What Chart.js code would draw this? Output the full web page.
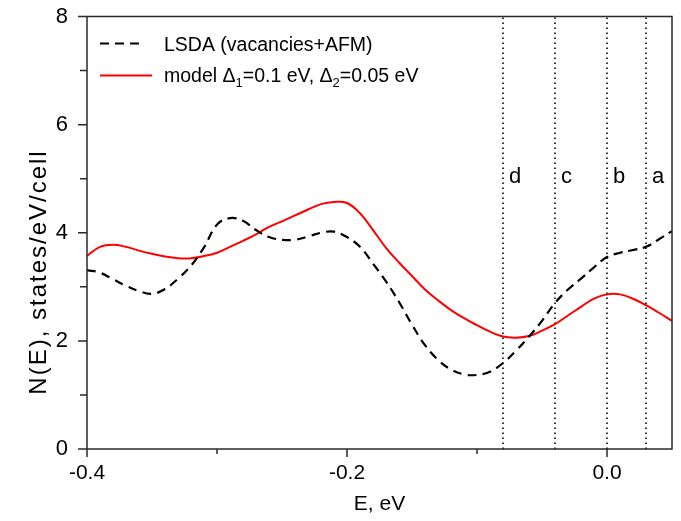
<!DOCTYPE html>
<html>
<head>
<meta charset="utf-8">
<script src="https://cdn.jsdelivr.net/npm/chart.js@4.4.1/dist/chart.umd.min.js"></script>
<style>
  html, body { margin: 0; padding: 0; background: #fff; }
  #wrap { width: 681px; height: 521px; }
</style>
</head>
<body>
<div id="wrap"><canvas id="dos"></canvas></div>
<script>
// Energy grid, eV
const energy = [
  -0.40, -0.39, -0.38, -0.37, -0.36, -0.35, -0.34, -0.33, -0.32, -0.31,
  -0.30, -0.29, -0.28, -0.27, -0.26, -0.25, -0.24, -0.23, -0.22, -0.21,
  -0.20, -0.19, -0.18, -0.17, -0.16, -0.15, -0.14, -0.13, -0.12, -0.11,
  -0.10, -0.09, -0.08, -0.07, -0.06, -0.05, -0.04, -0.03, -0.02, -0.01,
   0.00,  0.01,  0.02,  0.03,  0.04,  0.05
];

// LSDA (vacancies+AFM)
const lsda = [
  3.31, 3.26, 3.14, 3.02, 2.92, 2.87, 2.96, 3.15, 3.39, 3.73,
  4.15, 4.27, 4.22, 4.05, 3.92, 3.87, 3.87, 3.93, 4.00, 4.02,
  3.92, 3.74, 3.43, 3.10, 2.72, 2.30, 1.92, 1.65, 1.47, 1.38,
  1.37, 1.43, 1.59, 1.82, 2.08, 2.37, 2.70, 2.95, 3.15, 3.36,
  3.55, 3.63, 3.68, 3.74, 3.88, 4.03
];

// model, D1 = 0.1 eV, D2 = 0.05 eV
const model = [
  3.57, 3.74, 3.78, 3.74, 3.67, 3.61, 3.56, 3.53, 3.53, 3.57,
  3.63, 3.74, 3.85, 3.97, 4.11, 4.21, 4.32, 4.43, 4.53, 4.57,
  4.55, 4.36, 4.05, 3.72, 3.45, 3.20, 2.95, 2.75, 2.57, 2.42,
  2.29, 2.17, 2.08, 2.06, 2.09, 2.19, 2.31, 2.47, 2.63, 2.78,
  2.86, 2.86, 2.78, 2.66, 2.52, 2.37
];

// dotted marker lines
const markerE = [0.03, 0.00, -0.04, -0.08];
const markerLabels = ['a', 'b', 'c', 'd'];

const xMajor = [-0.4, -0.2, 0.0];
const xMinor = [-0.3, -0.1];
const yMajor = [0, 2, 4, 6, 8];
const yMinor = [1, 3, 5, 7];

const FONT = 'Liberation Sans, Arial, sans-serif';
const AXIS = '#2a2a2a';

const pts = vals => energy.map((e, i) => ({ x: e, y: vals[i] }));

const markerSets = markerE.map(e => ({
  data: [{ x: e, y: 0 }, { x: e, y: 8 }],
  borderColor: '#000',
  borderWidth: 1.6,
  borderDash: [1.6, 3.4],
  pointRadius: 0,
  tension: 0,
}));

// frame, tick marks, y title, marker letters and legend
const decor = {
  id: 'decor',
  afterDraw(chart) {
    const { ctx, chartArea: a, scales: { x, y } } = chart;
    ctx.save();
    ctx.strokeStyle = AXIS;
    ctx.lineWidth = 1.5;
    ctx.strokeRect(a.left, a.top, a.right - a.left, a.bottom - a.top);

    ctx.beginPath();
    xMajor.forEach(v => { const p = x.getPixelForValue(v); ctx.moveTo(p, a.bottom); ctx.lineTo(p, a.bottom + 8); });
    xMinor.forEach(v => { const p = x.getPixelForValue(v); ctx.moveTo(p, a.bottom); ctx.lineTo(p, a.bottom + 5); });
    yMajor.forEach(v => { const p = y.getPixelForValue(v); ctx.moveTo(a.left, p); ctx.lineTo(a.left - 9, p); });
    yMinor.forEach(v => { const p = y.getPixelForValue(v); ctx.moveTo(a.left, p); ctx.lineTo(a.left - 7, p); });
    ctx.stroke();

    ctx.fillStyle = '#000';

    // y axis title
    ctx.save();
    ctx.translate(46, 272);
    ctx.rotate(-Math.PI / 2);
    ctx.font = '24px ' + FONT;
    ctx.textAlign = 'center';
    ctx.textBaseline = 'alphabetic';
    if ('letterSpacing' in ctx) ctx.letterSpacing = '2px';
    ctx.fillText('N(E), states/eV/cell', 0, 0);
    ctx.restore();

    ctx.font = '22px ' + FONT;
    ctx.textBaseline = 'alphabetic';
    ctx.textAlign = 'left';
    markerE.forEach((e, i) => {
      ctx.fillText(markerLabels[i], x.getPixelForValue(e) + 6, y.getPixelForValue(4.92));
    });

    // legend
    const lx = a.left + 13, tx = a.left + 77;
    ctx.lineWidth = 2.2;
    ctx.strokeStyle = '#000';
    ctx.setLineDash([9, 6]);
    ctx.beginPath(); ctx.moveTo(lx, 43.5); ctx.lineTo(lx + 40, 43.5); ctx.stroke();
    ctx.setLineDash([]);
    ctx.strokeStyle = '#ff0000';
    ctx.beginPath(); ctx.moveTo(lx, 75.5); ctx.lineTo(lx + 52, 75.5); ctx.stroke();

    const big = '19.5px ' + FONT, small = '13px ' + FONT;
    ctx.font = big;
    ctx.fillText('LSDA (vacancies+AFM)', tx, 51);
    const parts = [['model \u0394', big, 82], ['1', small, 87], ['=0.1 eV, \u0394', big, 82], ['2', small, 87], ['=0.05 eV', big, 82]];
    let cx = tx;
    parts.forEach(([t, f, by]) => {
      ctx.font = f;
      ctx.fillText(t, cx, by);
      cx += ctx.measureText(t).width;
    });
    ctx.restore();
  }
};

new Chart(document.getElementById('dos'), {
  type: 'line',
  data: {
    datasets: [
      {
        data: pts(lsda),
        borderColor: '#000',
        borderWidth: 2.2,
        borderDash: [9, 6],
        pointRadius: 0,
        tension: 0.4,
      },
      {
        data: pts(model),
        borderColor: '#ff0000',
        borderWidth: 2,
        pointRadius: 0,
        tension: 0.4,
      },
      ...markerSets,
    ],
  },
  options: {
    responsive: true,
    maintainAspectRatio: false,
    animation: false,
    layout: { padding: { top: 16.5, right: 9, left: 0, bottom: 0 } },
    plugins: { legend: { display: false }, tooltip: { enabled: false } },
    scales: {
      x: {
        type: 'linear',
        min: -0.4,
        max: 0.05,
        afterBuildTicks: s => { s.ticks = xMajor.map(v => ({ value: v })); },
        afterFit: s => { s.height = 72; },
        grid: { display: false, drawTicks: false },
        border: { display: false },
        ticks: {
          padding: 12,
          color: '#000',
          font: { family: FONT, size: 21 },
          callback: v => v.toFixed(1),
        },
        title: {
          display: true,
          text: 'E, eV',
          color: '#000',
          font: { family: FONT, size: 21 },
          padding: { top: 5 },
        },
      },
      y: {
        min: 0,
        max: 8,
        afterBuildTicks: s => { s.ticks = yMajor.map(v => ({ value: v })); },
        afterFit: s => { s.width = 87; s.paddingTop = 0; s.paddingBottom = 0; },
        grid: { display: false, drawTicks: false },
        border: { display: false },
        ticks: {
          padding: 19,
          color: '#000',
          font: { family: FONT, size: 22 },
        },
      },
    },
  },
  plugins: [decor],
});
</script>
</body>
</html>
